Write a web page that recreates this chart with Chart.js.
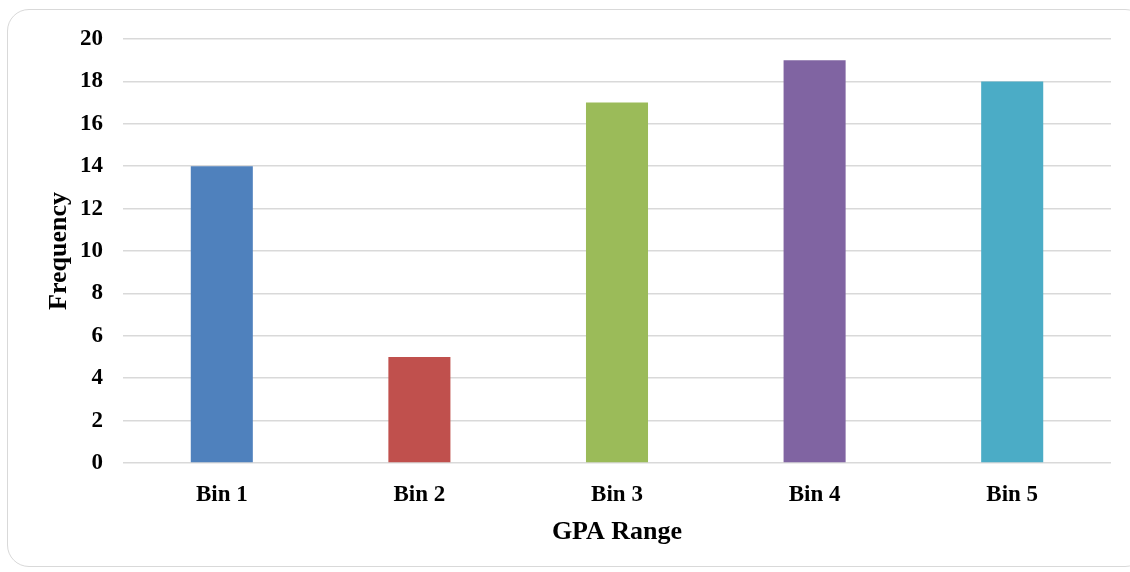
<!DOCTYPE html>
<html>
<head>
<meta charset="utf-8">
<script src="https://cdn.jsdelivr.net/npm/chart.js@4.4.0/dist/chart.umd.min.js"></script>
<style>
  html, body { margin: 0; padding: 0; background: #fff; }
  #wrap { position: relative; width: 1130px; height: 572px; overflow: hidden; }
  #frame {
    position: absolute; left: 7px; top: 9px; width: 1140px; height: 558px;
    border: 1.5px solid #d9d9d9; border-radius: 22px; box-sizing: border-box;
  }
  canvas { position: absolute; left: 0; top: 0; }
</style>
</head>
<body>
<div id="wrap">
  <div id="frame"></div>
  <canvas id="gpaChart" width="1130" height="572"></canvas>
</div>
<script>
// datos del histograma
const categorias = ['Bin 1', 'Bin 2', 'Bin 3', 'Bin 4', 'Bin 5'];
const frecuencias = [14, 5, 17, 19, 18];
const colores = ['#4F81BD', '#C0504D', '#9BBB59', '#8064A2', '#4BACC6'];
const ticksY = [0, 2, 4, 6, 8, 10, 12, 14, 16, 18, 20];

const fuente = "'Liberation Serif', 'Times New Roman', serif";

const ctx = document.getElementById('gpaChart').getContext('2d');
new Chart(ctx, {
    type: 'bar',
    data: {
        labels: categorias,
        datasets: [{
            label: 'Frequency',
            data: frecuencias,
            backgroundColor: colores,
            borderWidth: 0,
            barPercentage: 0.314,
            categoryPercentage: 1
        }]
    },
    options: {
        responsive: false,
        animation: false,
        layout: { padding: { top: 39, right: 19, left: 42, bottom: 20 } },
        plugins: {
            legend: { display: false },
            tooltip: { enabled: false }
        },
        scales: {
            x: {
                grid: { display: false, drawTicks: false },
                border: { display: false },
                ticks: {
                    color: '#000',
                    padding: 18,
                    font: { family: fuente, size: 23, weight: 'bold' }
                },
                title: {
                    display: true,
                    text: 'GPA Range',
                    color: '#000',
                    padding: { top: 2, bottom: 4 },
                    font: { family: fuente, size: 26, weight: 'bold' }
                },
                afterFit: s => { s.height = 572 - 463 - 20; }
            },
            y: {
                min: 0,
                max: 20,
                afterBuildTicks: s => { s.ticks = ticksY.map(v => ({ value: v })); },
                grid: { color: '#d9d9d9', lineWidth: 1.5, drawTicks: false },
                border: { display: false },
                ticks: {
                    color: '#000',
                    padding: 20,
                    font: { family: fuente, size: 23, weight: 'bold' }
                },
                title: {
                    display: true,
                    text: 'Frequency',
                    color: '#000',
                    padding: { top: 2, bottom: 0 },
                    font: { family: fuente, size: 26, weight: 'bold' }
                },
                afterFit: s => { s.width = 123 - 42; }
            }
        }
    }
});
</script>
</body>
</html>
